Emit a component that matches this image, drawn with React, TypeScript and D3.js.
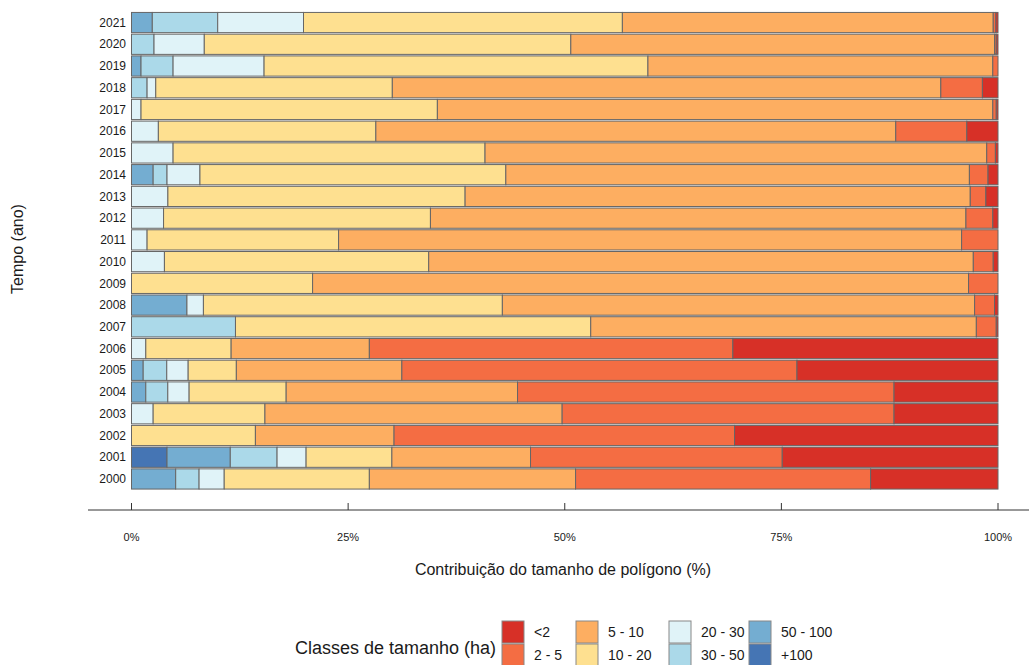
import React from "react";
import * as d3 from "d3";

// Size classes, stacked from left to right
const classes = ["+100", "50 - 100", "30 - 50", "20 - 30", "10 - 20", "5 - 10", "2 - 5", "<2"];
const classColors = ["#4575b4", "#74add1", "#abd9e9", "#e0f3f8", "#fee090", "#fdae61", "#f46d43", "#d73027"];
const legendOrder = ["<2", "2 - 5", "5 - 10", "10 - 20", "20 - 30", "30 - 50", "50 - 100", "+100"];

const years = [
  "2000", "2001", "2002", "2003", "2004", "2005", "2006", "2007", "2008", "2009", "2010",
  "2011", "2012", "2013", "2014", "2015", "2016", "2017", "2018", "2019", "2020", "2021",
];

// Share (%) of each size class per year, in the order of `classes`
const share2000 = [0, 5.1, 2.7, 2.9, 16.75, 23.8, 34.05, 14.7];
const share2001 = [4.1, 7.3, 5.4, 3.35, 9.9, 16.0, 29.05, 24.9];
const share2002 = [0, 0, 0, 0, 14.3, 16.0, 39.3, 30.4];
const share2003 = [0, 0, 0, 2.5, 12.9, 34.3, 38.3, 12.0];
const share2004 = [0, 1.65, 2.54, 2.46, 11.2, 26.7, 43.45, 12.0];
const share2005 = [0, 1.35, 2.72, 2.47, 5.56, 19.1, 45.6, 23.2];
const share2006 = [0, 0, 0, 1.65, 9.85, 15.95, 41.95, 30.6];
const share2007 = [0, 0, 12.0, 0, 41.0, 44.5, 2.3, 0.2];
const share2008 = [0, 6.4, 0, 1.9, 34.5, 54.5, 2.3, 0.4];
const share2009 = [0, 0, 0, 0, 20.9, 75.7, 3.4, 0];
const share2010 = [0, 0, 0, 3.8, 30.5, 62.85, 2.3, 0.55];
const share2011 = [0, 0, 0, 1.8, 22.1, 71.9, 4.2, 0];
const share2012 = [0, 0, 0, 3.7, 30.8, 61.8, 3.1, 0.6];
const share2013 = [0, 0, 0, 4.2, 34.3, 58.3, 1.8, 1.4];
const share2014 = [0, 2.5, 1.6, 3.8, 35.3, 53.5, 2.15, 1.15];
const share2015 = [0, 0, 0, 4.8, 36.0, 57.9, 1.0, 0.3];
const share2016 = [0, 0, 0, 3.1, 25.1, 60.0, 8.2, 3.6];
const share2017 = [0, 0, 0, 1.1, 34.2, 64.1, 0.4, 0.2];
const share2018 = [0, 0, 1.8, 1.0, 27.3, 63.3, 4.8, 1.8];
const share2019 = [0, 1.1, 3.7, 10.5, 44.3, 39.8, 0.6, 0];
const share2020 = [0, 0, 2.6, 5.8, 42.3, 48.9, 0.2, 0.2];
const share2021 = [0, 2.4, 7.55, 9.9, 36.8, 42.8, 0.3, 0.25];

const shares = [
  share2000, share2001, share2002, share2003, share2004, share2005, share2006, share2007,
  share2008, share2009, share2010, share2011, share2012, share2013, share2014, share2015,
  share2016, share2017, share2018, share2019, share2020, share2021,
];

const xTicks = [0, 25, 50, 75, 100];

const W = 1029;
const H = 665;
const FONT = "'Liberation Sans', Arial, sans-serif";

export default function App() {
  const rows = years.map((y, i) => {
    const rec: Record<string, number | string> = { year: y };
    classes.forEach((c, j) => (rec[c] = shares[i][j]));
    return rec;
  });
  const stack = d3.stack<Record<string, number | string>>().keys(classes);
  const series = stack(rows as any);

  const x = d3.scaleLinear().domain([0, 100]).range([131.5, 998]);
  const y = d3
    .scaleBand<string>()
    .domain([...years].reverse())
    .range([12, 489.5])
    .paddingInner(0.07)
    .paddingOuter(0.02);
  const color = d3.scaleOrdinal<string, string>().domain(classes).range(classColors);

  const axisY = 510;

  return (
    <svg
      width={W}
      height={H}
      style={{ position: "absolute", left: 0, top: 0, background: "#fff" }}
      fontFamily={FONT}
    >
      {series.map((s) => (
        <g key={s.key} fill={color(s.key)}>
          {s.map((d, i) =>
            d[1] - d[0] > 0 ? (
              <rect
                key={i}
                x={x(d[0])}
                y={y(String(d.data.year))!}
                width={x(d[1]) - x(d[0])}
                height={y.bandwidth()}
                stroke="#666"
                strokeWidth={1}
              />
            ) : null
          )}
        </g>
      ))}

      {/* year labels */}
      {years.map((yr) => (
        <text
          key={yr}
          x={126}
          y={y(yr)! + y.bandwidth() / 2}
          dy="0.35em"
          textAnchor="end"
          fontSize={12}
          fill="#1a1a1a"
        >
          {yr}
        </text>
      ))}

      <text
        transform={`translate(23,${249}) rotate(-90)`}
        textAnchor="middle"
        fontSize={16}
        fill="#1a1a1a"
      >
        Tempo (ano)
      </text>

      {/* x axis */}
      <line x1={88} x2={W} y1={axisY} y2={axisY} stroke="#333" strokeWidth={1} />
      {xTicks.map((t) => (
        <g key={t}>
          <line x1={x(t)} x2={x(t)} y1={axisY} y2={axisY - 7} stroke="#333" />
          <text x={x(t)} y={541} textAnchor="middle" fontSize={11} fill="#1a1a1a">
            {t}%
          </text>
        </g>
      ))}
      <text x={563} y={575} textAnchor="middle" fontSize={16} fill="#1a1a1a">
        Contribuição do tamanho de polígono (%)
      </text>

      {/* legend */}
      <text x={295} y={654} fontSize={18} fill="#1a1a1a">
        Classes de tamanho (ha)
      </text>
      {legendOrder.map((c, i) => {
        const col = Math.floor(i / 2);
        const row = i % 2;
        const colX = [502, 576, 669, 749][col];
        const ky = 621 + row * 23;
        return (
          <g key={c}>
            <rect x={colX} y={ky} width={22} height={22} fill={color(c)} stroke="#888" strokeWidth={1} />
            <text x={colX + 32} y={ky + 11} dy="0.35em" fontSize={14} fill="#1a1a1a">
              {c}
            </text>
          </g>
        );
      })}
    </svg>
  );
}
